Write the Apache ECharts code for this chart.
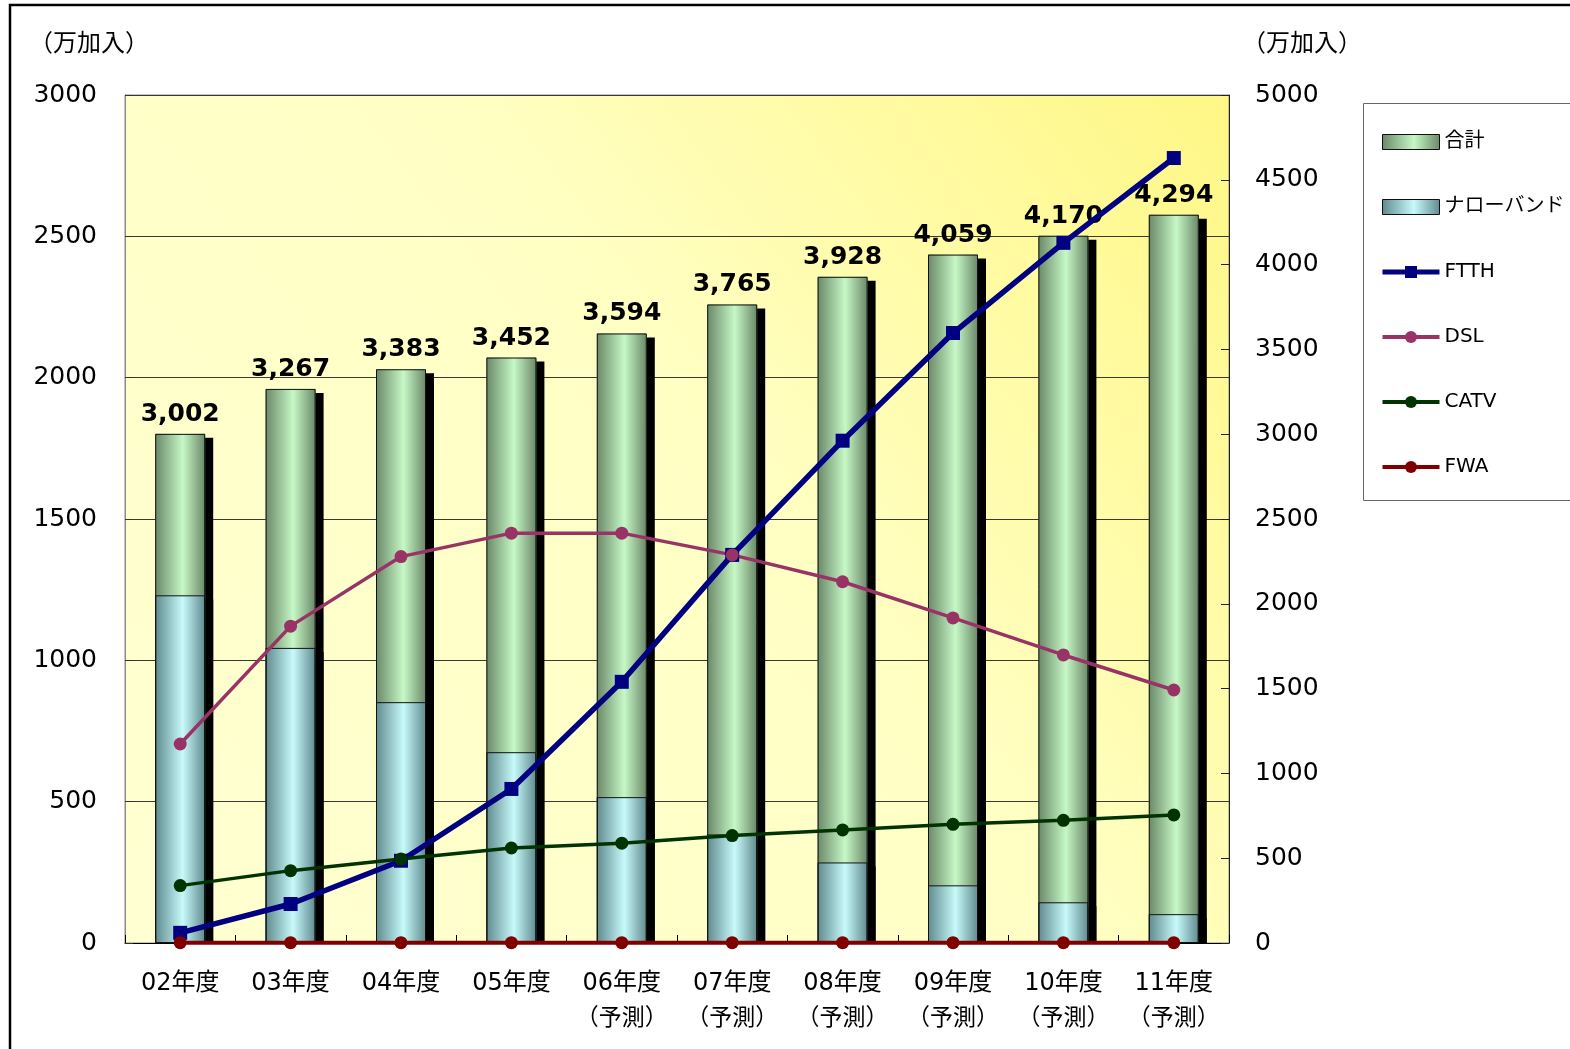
<!DOCTYPE html>
<html>
<head>
<meta charset="utf-8">
<script src="https://cdn.jsdelivr.net/npm/echarts@6/dist/echarts.min.js"></script>
<style>
  html, body { margin: 0; padding: 0; background: #fff; }
  #chart { width: 1570px; height: 1049px; }
</style>
</head>
<body>
<div id="chart"></div>
<script>
// Fiscal years (forecast years carry a second line)
const categories = [
  '02年度', '03年度', '04年度', '05年度',
  '06年度\n（予測）', '07年度\n（予測）', '08年度\n（予測）',
  '09年度\n（予測）', '10年度\n（予測）', '11年度\n（予測）'
];

// Subscribers, 10k units
const totalSubs   = [3002, 3267, 3383, 3452, 3594, 3765, 3928, 4059, 4170, 4294]; // right axis
const narrowband  = [2050, 1740, 1420, 1125, 860, 640, 475, 340, 240, 170];        // right axis
const ftth        = [36, 138, 291, 545, 924, 1373, 1777, 2158, 2477, 2777];        // left axis
const dsl         = [704, 1121, 1367, 1450, 1450, 1373, 1278, 1150, 1019, 895];    // left axis
const catv        = [203, 256, 297, 336, 353, 380, 400, 420, 434, 453];            // left axis
const fwa         = [1, 1, 1, 1, 1, 1, 1, 1, 1, 1];                                // left axis

const unitLabel = '（万加入）';

const NUM_FONT = '"DejaVu Sans", "Noto Sans CJK JP", sans-serif';
const CJK_FONT = '"Noto Sans CJK JP", "DejaVu Sans", sans-serif';

function barGradient(edge, light) {
  return {
    type: 'linear', x: 0, y: 0, x2: 1, y2: 0,
    colorStops: [
      { offset: 0, color: edge },
      { offset: 0.55, color: light },
      { offset: 1, color: edge }
    ]
  };
}

// filled bars cast a hard black drop shadow; outlines are drawn by separate series
const barFill = {
  borderWidth: 0,
  shadowColor: '#000',
  shadowBlur: 0,
  shadowOffsetX: 8,
  shadowOffsetY: 4
};
const outlineStyle = { color: 'rgba(0,0,0,0)', borderColor: '#111', borderWidth: 1 };
const noShadow = { shadowColor: 'rgba(0,0,0,0)', shadowOffsetX: 0, shadowOffsetY: 0, shadowBlur: 0 };

const plainNumber = function (v) { return String(v); };

const chart = echarts.init(document.getElementById('chart'), null, { renderer: 'canvas' });

const option = {
  animation: false,
  backgroundColor: '#fff',
  grid: {
    left: 125, right: 341, top: 95, bottom: 106,
    show: true,
    borderColor: '#8a8a8a',
    borderWidth: 1,
    backgroundColor: {
      type: 'linear', x: 0, y: 1, x2: 1, y2: 0,
      colorStops: [
        { offset: 0, color: '#ffffd2' },
        { offset: 0.55, color: '#ffffc4' },
        { offset: 1, color: '#fff785' }
      ]
    }
  },
  legend: {
    orient: 'vertical',
    left: 1380,
    top: 130,
    padding: 0,
    itemGap: 41,
    itemWidth: 57,
    itemHeight: 15,
    textStyle: { fontSize: 20, fontFamily: NUM_FONT, color: '#000', lineHeight: 24 },
    itemStyle: noShadow,
    data: [
      { name: '合計', icon: 'rect', itemStyle: Object.assign({ borderColor: '#111', borderWidth: 1 }, noShadow) },
      { name: 'ナローバンド', icon: 'rect', itemStyle: Object.assign({ borderColor: '#111', borderWidth: 1 }, noShadow) },
      { name: 'FTTH', lineStyle: { width: 5 } },
      { name: 'DSL', lineStyle: { width: 4 } },
      { name: 'CATV', lineStyle: { width: 4 } },
      { name: 'FWA', lineStyle: { width: 4 } }
    ]
  },
  xAxis: {
    type: 'category',
    data: categories,
    boundaryGap: true,
    axisLine: { show: true, lineStyle: { color: '#000', width: 1 } },
    axisTick: { show: true, inside: true, length: 8, lineStyle: { color: '#000' } },
    axisLabel: {
      margin: 25,
      color: '#000',
      formatter: function (v) {
        const parts = v.split('\n');
        return parts.length > 1 ? '{a|' + parts[0] + '}\n{b|' + parts[1] + '}' : '{a|' + v + '}';
      },
      rich: {
        a: { fontSize: 24, fontFamily: NUM_FONT, lineHeight: 32, color: '#000' },
        b: { fontSize: 23, fontFamily: CJK_FONT, lineHeight: 32, color: '#000' }
      }
    }
  },
  yAxis: [
    {
      type: 'value', min: 0, max: 3000, interval: 500,
      axisLine: { show: true, lineStyle: { color: '#8a8a8a' } },
      axisTick: { show: true, inside: true, length: 8, lineStyle: { color: '#333' } },
      axisLabel: { margin: 28, fontSize: 25, fontFamily: NUM_FONT, color: '#000',
                   padding: [6, 0, 0, 0], formatter: plainNumber },
      splitLine: { show: true, lineStyle: { color: '#3a3a30', width: 1 } }
    },
    {
      type: 'value', min: 0, max: 5000, interval: 500,
      position: 'right',
      axisLine: { show: true, lineStyle: { color: '#222' } },
      axisTick: { show: true, inside: true, length: 8, lineStyle: { color: '#222' } },
      axisLabel: { margin: 26, fontSize: 25, fontFamily: NUM_FONT, color: '#000',
                   padding: [6, 0, 0, 0], formatter: plainNumber },
      splitLine: { show: false }
    }
  ],
  graphic: [
    // outer frame
    { type: 'rect', z: 0, silent: true,
      shape: { x: 10, y: 5, width: 3000, height: 3000 },
      style: { fill: 'none', stroke: '#000', lineWidth: 2.5 } },
    // legend box
    { type: 'rect', z: 0, silent: true,
      shape: { x: 1363.5, y: 103.5, width: 400, height: 397 },
      style: { fill: '#fff', stroke: '#666', lineWidth: 1 } },
    // unit labels
    { type: 'text', z: 5, left: 29, top: 30,
      style: { text: unitLabel, font: '24px ' + CJK_FONT, fill: '#000' } },
    { type: 'text', z: 5, left: 1242, top: 30,
      style: { text: unitLabel, font: '24px ' + CJK_FONT, fill: '#000' } },
    // keeps bar shadows from spilling under the category axis
    { type: 'rect', z: 2, silent: true,
      shape: { x: 124, y: 944, width: 1112, height: 12 },
      style: { fill: '#fff' } }
  ],
  series: [
    {
      name: '合計', type: 'bar', yAxisIndex: 1, z: 1,
      data: totalSubs, barWidth: 50, barGap: '-100%',
      itemStyle: Object.assign({ color: barGradient('#6a8868', '#c6f8c6') }, barFill),
      label: {
        show: true, position: 'top', distance: 7,
        fontSize: 25, fontWeight: 'bold', fontFamily: NUM_FONT, color: '#000',
        formatter: function (p) { return p.value.toLocaleString('en-US'); }
      }
    },
    {
      name: 'ナローバンド', type: 'bar', yAxisIndex: 1, z: 1,
      data: narrowband, barWidth: 50, barGap: '-100%',
      itemStyle: Object.assign({ color: barGradient('#5f8a8e', '#c8fafa') }, barFill)
    },
    {
      name: 'total-outline', type: 'bar', yAxisIndex: 1, z: 1, silent: true,
      data: totalSubs, barWidth: 50, barGap: '-100%',
      itemStyle: outlineStyle
    },
    {
      name: 'narrowband-outline', type: 'bar', yAxisIndex: 1, z: 1, silent: true,
      data: narrowband, barWidth: 50, barGap: '-100%',
      itemStyle: outlineStyle
    },
    {
      name: 'FTTH', type: 'line', yAxisIndex: 0, z: 3,
      data: ftth, symbol: 'rect', symbolSize: 14,
      lineStyle: { color: '#000080', width: 5.5 },
      itemStyle: { color: '#000080' }
    },
    {
      name: 'DSL', type: 'line', yAxisIndex: 0, z: 3,
      data: dsl, symbol: 'circle', symbolSize: 13,
      lineStyle: { color: '#993366', width: 3.5 },
      itemStyle: { color: '#993366' }
    },
    {
      name: 'CATV', type: 'line', yAxisIndex: 0, z: 3,
      data: catv, symbol: 'circle', symbolSize: 13,
      lineStyle: { color: '#003300', width: 3.5 },
      itemStyle: { color: '#003300' }
    },
    {
      name: 'FWA', type: 'line', yAxisIndex: 0, z: 3,
      data: fwa, symbol: 'circle', symbolSize: 13,
      lineStyle: { color: '#800000', width: 4 },
      itemStyle: { color: '#800000' }
    }
  ]
};

chart.setOption(option);
</script>
</body>
</html>
